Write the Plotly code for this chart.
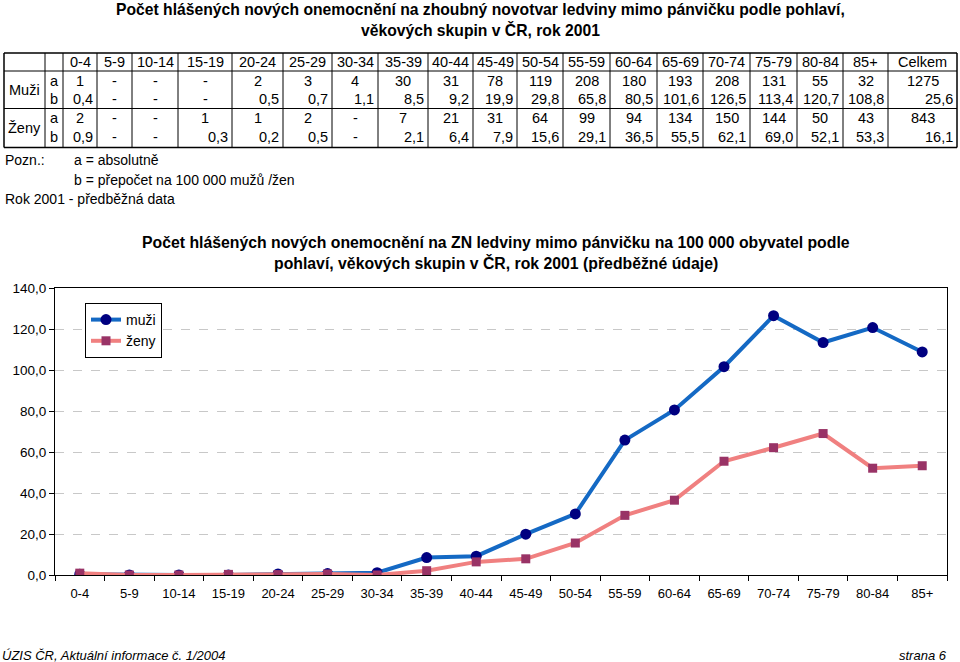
import plotly.graph_objects as go

# ---------------- data ----------------
age_groups = ["0-4", "5-9", "10-14", "15-19", "20-24", "25-29", "30-34", "35-39", "40-44",
              "45-49", "50-54", "55-59", "60-64", "65-69", "70-74", "75-79", "80-84", "85+"]
total_label = "Celkem"

muzi_abs = ["1", "-", "-", "-", "2", "3", "4", "30", "31", "78", "119", "208", "180", "193",
            "208", "131", "55", "32"]
muzi_abs_total = "1275"
muzi_rate = [0.4, None, None, None, 0.5, 0.7, 1.1, 8.5, 9.2, 19.9, 29.8, 65.8, 80.5, 101.6,
             126.5, 113.4, 120.7, 108.8]
muzi_rate_total = 25.6

zeny_abs = ["2", "-", "-", "1", "1", "2", "-", "7", "21", "31", "64", "99", "94", "134",
            "150", "144", "50", "43"]
zeny_abs_total = "843"
zeny_rate = [0.9, None, None, 0.3, 0.2, 0.5, None, 2.1, 6.4, 7.9, 15.6, 29.1, 36.5, 55.5,
             62.1, 69.0, 52.1, 53.3]
zeny_rate_total = 16.1

y_ticks = [0, 20, 40, 60, 80, 100, 120, 140]

title_lines = ["Počet hlášených nových onemocnění na zhoubný novotvar ledviny mimo pánvičku podle pohlaví,",
               "věkových skupin v ČR, rok 2001"]
chart_title_lines = ["Počet hlášených nových onemocnění na ZN ledviny mimo pánvičku na 100 000 obyvatel podle",
                     "pohlaví, věkových skupin v ČR, rok 2001 (předběžné údaje)"]

# ---------------- geometry (pixels) ----------------
W, H = 960, 662
L, R, T, B = 55, 947, 288, 575
PW, PH = R - L, B - T


def fx(px):
    return (px - L) / PW


def fy(py):
    return (B - py) / PH


FONT = "Liberation Sans, Arial, sans-serif"


def fmt(v):
    return "-" if v is None else f"{v:.1f}".replace(".", ",")


fig = go.Figure()

chart_m = [v if v is not None else 0.0 for v in muzi_rate]
chart_z = [v if v is not None else 0.0 for v in zeny_rate]

fig.add_trace(go.Scatter(
    x=age_groups, y=chart_m, name="muži", mode="lines+markers",
    line=dict(color="#1469C4", width=4),
    marker=dict(symbol="circle", size=11, color="#000080"),
))
fig.add_trace(go.Scatter(
    x=age_groups, y=chart_z, name="ženy", mode="lines+markers",
    line=dict(color="#F08080", width=4),
    marker=dict(symbol="square", size=9, color="#993366"),
))

shapes = []
annotations = []

# ---------------- table ----------------
col_b = [4, 45, 63, 97, 132, 178, 232, 283, 332, 378, 428, 473, 517, 563, 610, 657, 703,
         750, 797, 843, 888, 957]
row_top, row_hdr, row_mid, row_bot = 53, 71, 108.5, 147.5
row_c = [62, 80.5, 99, 118, 137]

for yy, w in [(row_top, 1.5), (row_hdr, 1), (row_mid, 1), (row_bot, 1.5)]:
    shapes.append(dict(type="line", xref="paper", yref="paper",
                       x0=fx(col_b[0]), x1=fx(col_b[-1]), y0=fy(yy), y1=fy(yy),
                       line=dict(color="black", width=w)))
for i, xx in enumerate(col_b):
    w = 1.5 if i in (0, len(col_b) - 1) else 1
    shapes.append(dict(type="line", xref="paper", yref="paper",
                       x0=fx(xx), x1=fx(xx), y0=fy(row_top), y1=fy(row_bot),
                       line=dict(color="black", width=w)))

TS = 14.5


def cell(text, ci, ry, align="center"):
    x0, x1 = col_b[ci], col_b[ci + 1]
    if align == "center":
        xp, xa = (x0 + x1) / 2, "center"
    elif align == "right":
        xp, xa = x1 - 2, "right"
    else:
        xp, xa = x0 + 3, "left"
    annotations.append(dict(text=text, xref="paper", yref="paper", x=fx(xp), y=fy(ry),
                            xanchor=xa, yanchor="middle", showarrow=False,
                            font=dict(family=FONT, size=TS, color="black")))


headers = age_groups + [total_label]
for j, h in enumerate(headers):
    cell(h, j + 2, row_c[0])

# group labels
annotations.append(dict(text="Muži", xref="paper", yref="paper", x=fx((col_b[0] + col_b[1]) / 2),
                        y=fy((row_hdr + row_mid) / 2), xanchor="center", yanchor="middle",
                        showarrow=False, font=dict(family=FONT, size=TS, color="black")))
annotations.append(dict(text="Ženy", xref="paper", yref="paper", x=fx((col_b[0] + col_b[1]) / 2),
                        y=fy((row_mid + row_bot) / 2), xanchor="center", yanchor="middle",
                        showarrow=False, font=dict(family=FONT, size=TS, color="black")))
for k, lab in enumerate(["a", "b", "a", "b"]):
    cell(lab, 1, row_c[k + 1])

for rowi, (abs_vals, abs_tot, rate_vals, rate_tot) in enumerate(
        [(muzi_abs, muzi_abs_total, muzi_rate, muzi_rate_total),
         (zeny_abs, zeny_abs_total, zeny_rate, zeny_rate_total)]):
    ya = row_c[1 + 2 * rowi]
    yb = row_c[2 + 2 * rowi]
    for j, v in enumerate(abs_vals):
        cell(v, j + 2, ya, "center")
    cell(abs_tot, len(abs_vals) + 2, ya, "center")
    for j, v in enumerate(rate_vals):
        cell(fmt(v), j + 2, yb, "center" if v is None else "right")
    cell(fmt(rate_tot), len(rate_vals) + 2, yb, "right")


def text(t, xp, yp, xa="left", size=14, family=FONT, bold=False, italic=False):
    if bold:
        t = f"<b>{t}</b>"
    if italic:
        t = f"<i>{t}</i>"
    annotations.append(dict(text=t, xref="paper", yref="paper", x=fx(xp), y=fy(yp),
                            xanchor=xa, yanchor="middle", showarrow=False,
                            font=dict(family=family, size=size, color="black")))


# titles
text(title_lines[0], 480, 9, "center", size=15.7, bold=True)
text(title_lines[1], 480, 30, "center", size=15.7, bold=True)
text(chart_title_lines[0], 496, 242, "center", size=15.8, bold=True)
text(chart_title_lines[1], 496, 263, "center", size=15.8, bold=True)

# notes
text("Pozn.:", 3, 160)
text("a = absolutně", 72, 160)
text("b = přepočet na 100 000 mužů /žen", 72, 180)
text("Rok 2001 - předběžná data", 3, 199)

# footer
text("ÚZIS ČR, Aktuální informace č. 1/2004", 0, 655, "left", size=13, italic=True)
text("strana 6", 949, 655, "right", size=13, italic=True)

fig.update_layout(
    width=W, height=H,
    margin=dict(l=L, r=W - R, t=T, b=H - B, pad=0),
    paper_bgcolor="white", plot_bgcolor="white",
    separators=", ",
    showlegend=True,
    legend=dict(x=fx(85), y=fy(303), xanchor="left", yanchor="top",
                bordercolor="black", borderwidth=1, bgcolor="white",
                font=dict(family=FONT, size=14, color="black"),
                tracegroupgap=4),
    shapes=shapes,
    annotations=annotations,
    font=dict(family=FONT, size=13, color="black"),
)
fig.update_xaxes(
    range=[-0.5, len(age_groups) - 0.5], showgrid=False,
    showline=True, linecolor="black", linewidth=1, mirror=True,
    ticks="outside", tickson="boundaries", ticklen=5, tickcolor="black",
    ticklabelstandoff=6,
    tickfont=dict(family=FONT, size=13, color="black"), zeroline=False,
)
fig.update_yaxes(
    range=[0, 140], tickvals=y_ticks, tickformat=".1f",
    showgrid=True, gridcolor="#C8C8C8", griddash="dash", gridwidth=1,
    showline=True, linecolor="black", linewidth=1, mirror=True,
    ticks="outside", ticklen=5, tickcolor="black",
    tickfont=dict(family=FONT, size=13.5, color="black"), zeroline=False,
)

fig.write_html("out.html")
